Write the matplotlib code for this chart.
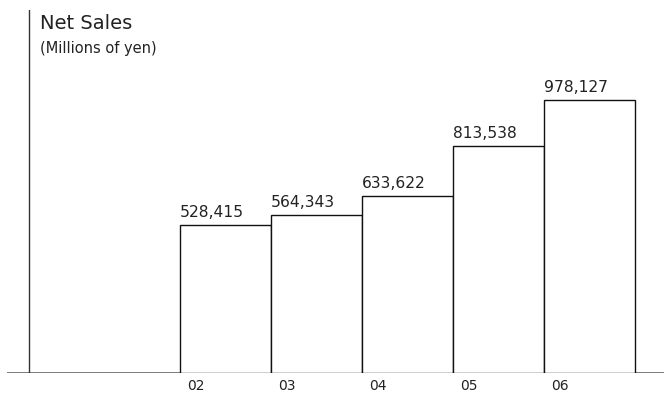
import matplotlib
matplotlib.use("Agg")
import matplotlib.pyplot as plt

years = ["02", "03", "04", "05", "06"]
net_sales = [528415, 564343, 633622, 813538, 978127]
title = "Net Sales"
unit = "(Millions of yen)"

W, H = 664, 393
fig = plt.figure(figsize=(W / 100, H / 100), dpi=100)
plt.rcParams['font.family'] = ['DejaVu Sans']

# axes spanning baseline region (pixel-based layout)
ax_l, ax_r, ax_b, ax_t = 7, 664, 373, 10
ax = fig.add_axes([ax_l / W, (H - ax_b) / H, (ax_r - ax_l) / W, (ax_b - ax_t) / H])

bar_w_px = 91
first_center = 225.5
x_per_px = 1 / bar_w_px
xmin = (ax_l - first_center) * x_per_px
xmax = (ax_r - first_center) * x_per_px
ax.set_xlim(xmin, xmax)
ax.set_ylim(0, 1300000)

xs = list(range(len(years)))
ax.bar(xs, net_sales, width=1.0, color="white", edgecolor="#111111", linewidth=1.0, zorder=2)

px = 0.72  # points per pixel at 100 dpi
for x, v in zip(xs, net_sales):
    ax.annotate(f"{v:,}", (x - 0.5, v), xytext=(0, 8 * px), textcoords="offset points",
                ha="left", va="baseline", fontsize=11.2, color="#222222")
    ax.annotate(years[x], (x - 0.5, 0), xytext=(7.5 * px, -17.5 * px), textcoords="offset points",
                ha="left", va="baseline", fontsize=10, color="#222222", annotation_clip=False)

ax.axhline(0, color="#555555", linewidth=1.8, zorder=1)
ax.axvline((29.5 - first_center) * x_per_px, color="#333333", linewidth=1.0)

for s in ax.spines.values():
    s.set_visible(False)
ax.set_xticks([])
ax.set_yticks([])

fig.text(40 / W, 1 - 29 / H, title, ha="left", va="baseline", fontsize=14, color="#222222")
fig.text(40.5 / W, 1 - 52.5 / H, unit, ha="left", va="baseline", fontsize=10.5, color="#222222")

fig.savefig("out.png", dpi=100)
